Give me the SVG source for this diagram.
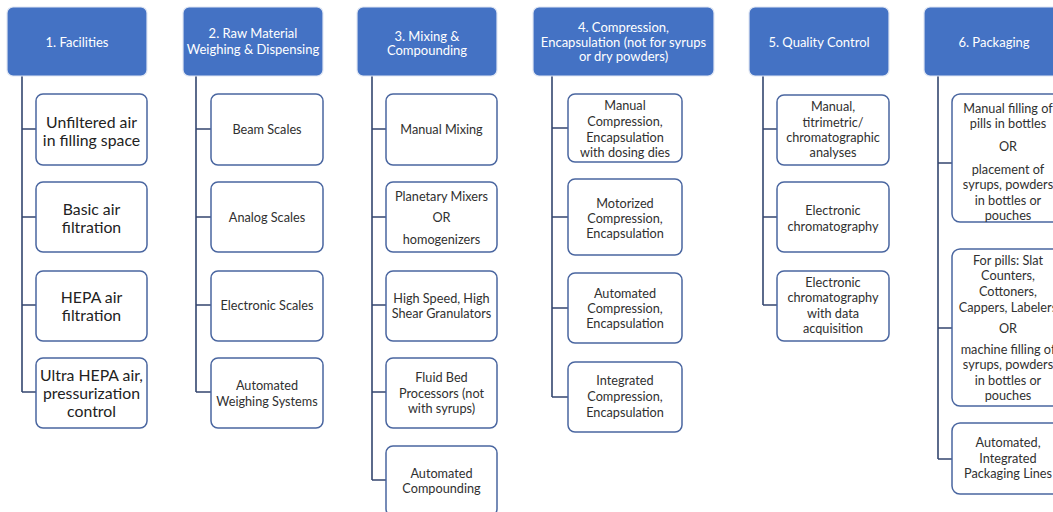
<svg xmlns="http://www.w3.org/2000/svg" width="1053" height="512" viewBox="0 0 1053 512">
  <style>
    .hdr { fill: #4472C4; stroke: #dfe6f3; stroke-width: 1.2; }
    .box { fill: #ffffff; stroke: #4a66a0; stroke-width: 1.5; }
    .conn { fill: none; stroke: #34466f; stroke-width: 1.6; }
    text { font-family: Lato, "Open Sans", "Liberation Sans", sans-serif; text-anchor: middle; dominant-baseline: central; }
    .ht { fill: #ffffff; font-size: 13px; }
    .t { fill: #303030; font-size: 12.7px; }
    .tl { fill: #222222; font-size: 15.8px; }
  </style>
  <rect width="1053" height="512" fill="#ffffff"/>

  <!-- connectors: one trunk per column with a branch to each item -->
  <g id="connectors">
    <path class="conn" d="M22,76 V392 M22,129 H36 M22,217 H36 M22,305 H36 M22,392 H36"/>
    <path class="conn" d="M196,76 V392 M196,129 H211 M196,217 H211 M196,305 H211 M196,392 H211"/>
    <path class="conn" d="M372,76 V480 M372,129 H386 M372,217 H386 M372,305 H386 M372,392 H386 M372,480 H386"/>
    <path class="conn" d="M552,76 V397 M552,128 H568 M552,217 H568 M552,308 H568 M552,397 H568"/>
    <path class="conn" d="M763,76 V305 M763,129 H777 M763,217 H777 M763,305 H777"/>
    <path class="conn" d="M938,76 V459 M938,163 H952 M938,328 H952 M938,459 H952"/>
  </g>

  <!-- column 1 -->
  <g id="h1"><rect class="hdr" x="7" y="7" width="140" height="69" rx="6"/><text class="ht" x="77" y="42">1. Facilities</text></g>
  <g id="c1a"><rect class="box" x="36" y="94" width="111" height="71" rx="7"/><text class="tl" x="91.5" y="121">Unfiltered air</text><text class="tl" x="91.5" y="139">in filling space</text></g>
  <g id="c1b"><rect class="box" x="36" y="182" width="111" height="70" rx="7"/><text class="tl" x="91.5" y="208">Basic air</text><text class="tl" x="91.5" y="226">filtration</text></g>
  <g id="c1c"><rect class="box" x="36" y="271" width="111" height="70" rx="7"/><text class="tl" x="91.5" y="296">HEPA air</text><text class="tl" x="91.5" y="314">filtration</text></g>
  <g id="c1d"><rect class="box" x="36" y="358" width="111" height="70" rx="7"/><text class="tl" x="91.5" y="374">Ultra HEPA air,</text><text class="tl" x="91.5" y="392">pressurization</text><text class="tl" x="91.5" y="410">control</text></g>

  <!-- column 2 -->
  <g id="h2"><rect class="hdr" x="183" y="7" width="140" height="69" rx="6"/><text class="ht" x="253" y="33">2. Raw Material</text><text class="ht" x="253" y="49">Weighing &amp; Dispensing</text></g>
  <g id="c2a"><rect class="box" x="211" y="94" width="112" height="71" rx="7"/><text class="t" x="267" y="129">Beam Scales</text></g>
  <g id="c2b"><rect class="box" x="211" y="182" width="112" height="70" rx="7"/><text class="t" x="267" y="217">Analog Scales</text></g>
  <g id="c2c"><rect class="box" x="211" y="271" width="112" height="70" rx="7"/><text class="t" x="267" y="305">Electronic Scales</text></g>
  <g id="c2d"><rect class="box" x="211" y="358" width="112" height="70" rx="7"/><text class="t" x="267" y="385">Automated</text><text class="t" x="267" y="401">Weighing Systems</text></g>

  <!-- column 3 -->
  <g id="h3"><rect class="hdr" x="357" y="7" width="140" height="69" rx="6"/><text class="ht" x="427" y="36">3. Mixing &amp;</text><text class="ht" x="427" y="50">Compounding</text></g>
  <g id="c3a"><rect class="box" x="386" y="94" width="111" height="71" rx="7"/><text class="t" x="441.5" y="129">Manual Mixing</text></g>
  <g id="c3b"><rect class="box" x="386" y="182" width="111" height="70" rx="7"/><text class="t" x="441.5" y="196">Planetary Mixers</text><text class="t" x="441.5" y="217">OR</text><text class="t" x="441.5" y="239">homogenizers</text></g>
  <g id="c3c"><rect class="box" x="386" y="271" width="111" height="70" rx="7"/><text class="t" x="441.5" y="298">High Speed, High</text><text class="t" x="441.5" y="313">Shear Granulators</text></g>
  <g id="c3d"><rect class="box" x="386" y="358" width="111" height="70" rx="7"/><text class="t" x="441.5" y="377">Fluid Bed</text><text class="t" x="441.5" y="393">Processors (not</text><text class="t" x="441.5" y="408">with syrups)</text></g>
  <g id="c3e"><rect class="box" x="386" y="446" width="111" height="70" rx="7"/><text class="t" x="441.5" y="473">Automated</text><text class="t" x="441.5" y="488">Compounding</text></g>

  <!-- column 4 -->
  <g id="h4"><rect class="hdr" x="533" y="7" width="181" height="69" rx="6"/><text class="ht" x="623.5" y="27">4. Compression,</text><text class="ht" x="623.5" y="42">Encapsulation (not for syrups</text><text class="ht" x="623.5" y="56">or dry powders)</text></g>
  <g id="c4a"><rect class="box" x="568" y="94" width="114" height="68" rx="7"/><text class="t" x="625" y="105">Manual</text><text class="t" x="625" y="121">Compression,</text><text class="t" x="625" y="137">Encapsulation</text><text class="t" x="625" y="152">with dosing dies</text></g>
  <g id="c4b"><rect class="box" x="568" y="179" width="114" height="76" rx="7"/><text class="t" x="625" y="203">Motorized</text><text class="t" x="625" y="218">Compression,</text><text class="t" x="625" y="233">Encapsulation</text></g>
  <g id="c4c"><rect class="box" x="568" y="273" width="114" height="70" rx="7"/><text class="t" x="625" y="293">Automated</text><text class="t" x="625" y="308">Compression,</text><text class="t" x="625" y="323">Encapsulation</text></g>
  <g id="c4d"><rect class="box" x="568" y="362" width="114" height="70" rx="7"/><text class="t" x="625" y="380">Integrated</text><text class="t" x="625" y="396">Compression,</text><text class="t" x="625" y="412">Encapsulation</text></g>

  <!-- column 5 -->
  <g id="h5"><rect class="hdr" x="749" y="7" width="140" height="69" rx="6"/><text class="ht" x="819" y="42">5. Quality Control</text></g>
  <g id="c5a"><rect class="box" x="777" y="95" width="112" height="70" rx="7"/><text class="t" x="833" y="106">Manual,</text><text class="t" x="833" y="122">titrimetric/</text><text class="t" x="833" y="137">chromatographic</text><text class="t" x="833" y="152">analyses</text></g>
  <g id="c5b"><rect class="box" x="777" y="182" width="112" height="70" rx="7"/><text class="t" x="833" y="210">Electronic</text><text class="t" x="833" y="226">chromatography</text></g>
  <g id="c5c"><rect class="box" x="777" y="271" width="112" height="70" rx="7"/><text class="t" x="833" y="282">Electronic</text><text class="t" x="833" y="297">chromatography</text><text class="t" x="833" y="313">with data</text><text class="t" x="833" y="328">acquisition</text></g>

  <!-- column 6 -->
  <g id="h6"><rect class="hdr" x="924" y="7" width="140" height="69" rx="6"/><text class="ht" x="994" y="42">6. Packaging</text></g>
  <g id="c6a"><rect class="box" x="952" y="94" width="112" height="128" rx="8"/><text class="t" x="1008" y="108">Manual filling of</text><text class="t" x="1008" y="123">pills in bottles</text><text class="t" x="1008" y="146">OR</text><text class="t" x="1008" y="169">placement of</text><text class="t" x="1008" y="184">syrups, powders</text><text class="t" x="1008" y="200">in bottles or</text><text class="t" x="1008" y="215">pouches</text></g>
  <g id="c6b"><rect class="box" x="952" y="249" width="112" height="157" rx="8"/><text class="t" x="1008" y="260">For pills:  Slat</text><text class="t" x="1008" y="275">Counters,</text><text class="t" x="1008" y="291">Cottoners,</text><text class="t" x="1008" y="307">Cappers, Labelers</text><text class="t" x="1008" y="328">OR</text><text class="t" x="1008" y="349">machine filling of</text><text class="t" x="1008" y="364">syrups, powders</text><text class="t" x="1008" y="380">in bottles or</text><text class="t" x="1008" y="395">pouches</text></g>
  <g id="c6c"><rect class="box" x="952" y="423" width="112" height="71" rx="8"/><text class="t" x="1008" y="442">Automated,</text><text class="t" x="1008" y="458">Integrated</text><text class="t" x="1008" y="473">Packaging Lines</text></g>
</svg>
